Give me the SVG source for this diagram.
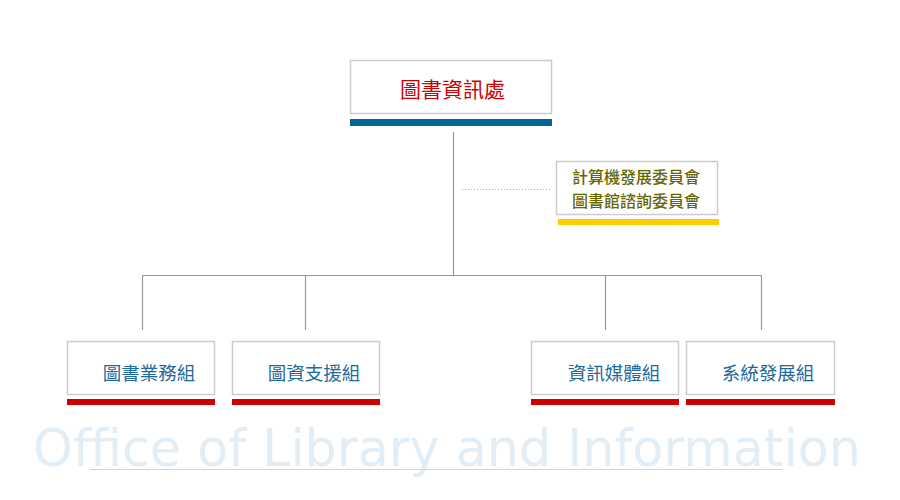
<svg xmlns="http://www.w3.org/2000/svg" width="900" height="500" viewBox="0 0 900 500">
<style>
.box{fill:#fff;stroke:#cccccc;stroke-width:1.5}
.ln{stroke:#999;stroke-width:1.2;fill:none}
.cjk{font-family:"Noto Sans CJK TC","Noto Sans CJK SC",sans-serif}
.unit{font-size:18.5px;fill:#1f6a9a;text-anchor:middle}
.comm{font-size:16px;fill:#666600;text-anchor:middle;font-weight:500}
.red{fill:#cc0000}
</style>
<rect width="900" height="500" fill="#fff"/>
<g id="watermark">
<text x="33" y="466" font-family="DejaVu Sans, sans-serif" font-size="52" fill="#e3edf6" textLength="828" lengthAdjust="spacingAndGlyphs">Office of Library and Information</text>
<line x1="90" y1="469.5" x2="782" y2="469.5" stroke="#d0d6dc" stroke-width="1"/>
</g>
<g id="connectors">
<line class="ln" x1="453.5" y1="132" x2="453.5" y2="275.5"/>
<line class="ln" x1="142.5" y1="275.5" x2="761.5" y2="275.5"/>
<line class="ln" x1="142.5" y1="275" x2="142.5" y2="330"/>
<line class="ln" x1="305.5" y1="275" x2="305.5" y2="330"/>
<line class="ln" x1="605.5" y1="275" x2="605.5" y2="330"/>
<line class="ln" x1="761.5" y1="275" x2="761.5" y2="330"/>
<line x1="462" y1="189.5" x2="550" y2="189.5" stroke="#aaa" stroke-width="1" stroke-dasharray="1,2"/>
</g>
<g id="top">
<rect class="box" x="350.5" y="60.5" width="201" height="53"/>
<rect x="350" y="119" width="202" height="7" fill="#006699"/>
<text class="cjk red" x="452.5" y="97" font-size="21" text-anchor="middle">圖書資訊處</text>
</g>
<g id="committee">
<rect class="box" x="556.5" y="161.5" width="161" height="53"/>
<rect x="558" y="219" width="161" height="6" fill="#ffcc00"/>
<text class="cjk comm" x="636" y="183">計算機發展委員會</text>
<text class="cjk comm" x="636" y="207">圖書館諮詢委員會</text>
</g>
<g id="u1">
<rect class="box" x="67.5" y="341.5" width="147" height="53"/>
<rect x="67" y="399" width="148" height="6" fill="#cc0000"/>
<text class="cjk unit" x="149" y="380">圖書業務組</text>
</g>
<g id="u2">
<rect class="box" x="232.5" y="341.5" width="147" height="53"/>
<rect x="232" y="399" width="148" height="6" fill="#cc0000"/>
<text class="cjk unit" x="314" y="380">圖資支援組</text>
</g>
<g id="u3">
<rect class="box" x="531.5" y="341.5" width="147" height="53"/>
<rect x="531" y="399" width="148" height="6" fill="#cc0000"/>
<text class="cjk unit" x="614" y="380">資訊媒體組</text>
</g>
<g id="u4">
<rect class="box" x="686.5" y="341.5" width="148" height="53"/>
<rect x="686" y="399" width="149" height="6" fill="#cc0000"/>
<text class="cjk unit" x="768" y="380">系統發展組</text>
</g>
</svg>
